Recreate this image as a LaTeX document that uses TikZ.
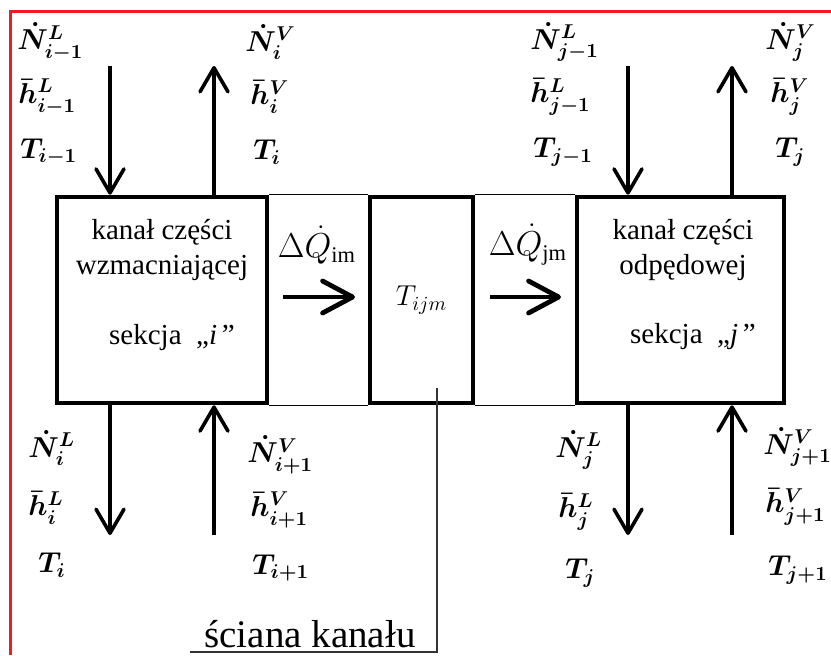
\documentclass[tikz,border=0pt]{standalone}
\usepackage{amsmath}
\usepackage{fontspec}
\setmainfont{Liberation Serif}
\usetikzlibrary{arrows.meta}

\definecolor{frameRed}{RGB}{237,28,36}

\begin{document}
\begin{tikzpicture}[
    x=0.5pt, y=-0.5pt,
    box/.style={draw, line width=2.3pt, inner sep=0pt, minimum height=103pt},
    txt/.style={align=center, font=\fontsize{14.5}{17.5}\selectfont},
    qty/.style={anchor=west, inner sep=0pt, font=\fontsize{14}{16}\selectfont\boldmath},
    flow/.style={line width=1.8pt, -{Straight Barb[round,length=12pt,width=14pt]}},
    heat/.style={line width=2.4pt, -{Straight Barb[round,length=15pt,width=16pt]}},
    thinline/.style={line width=0.5pt},
    wallline/.style={line width=0.7pt, black!80}
]
\useasboundingbox (0,0) rectangle (831,655);

% Red frame (top and left only)
\draw[frameRed, line width=1.5pt] (10,655) -- (10,11) -- (831,11);

% Section boxes and the wall
\node[box, minimum width=105pt] (secI) at (162,300) {};
\node[box, minimum width=51.5pt, font=\fontsize{14.5}{16}\selectfont] (wall) at (421.5,300) {$T_{ijm}$};
\node[box, minimum width=103.5pt] (secJ) at (680.5,300) {};

% Thin lines joining the boxes
\draw[thinline] (secI.north east) -- (wall.north west);
\draw[thinline] (wall.north east) -- (secJ.north west);
\draw[thinline] (secI.south east) -- (wall.south west);
\draw[thinline] (wall.south east) -- (secJ.south west);

% Texts inside the boxes
\node[txt] (nameI) at (162,250) {kanał części\\wzmacniającej};
\node[txt] (idxI) at (172,338) {sekcja \ „\textit{i}\,”};
\node[txt] (nameJ) at (683,250) {kanał części\\odpędowej};
\node[txt] (idxJ) at (693,337) {sekcja \ „\textit{j}\,”};

% Free ends of the streams
\coordinate (inLI) at (110,66);
\coordinate (outVI) at (214,66);
\coordinate (outLI) at (110,535);
\coordinate (inVI) at (214,535);
\coordinate (inLJ) at (628,66);
\coordinate (outVJ) at (732,66);
\coordinate (outLJ) at (628,535);
\coordinate (inVJ) at (732,535);

% Streams of section i
\draw[flow] (inLI) -- (inLI |- secI.north);
\draw[flow] (outVI |- secI.north) -- (outVI);
\draw[flow] (outLI |- secI.south) -- (outLI);
\draw[flow] (inVI) -- (inVI |- secI.south);

% Streams of section j
\draw[flow] (inLJ) -- (inLJ |- secJ.north);
\draw[flow] (outVJ |- secJ.north) -- (outVJ);
\draw[flow] (outLJ |- secJ.south) -- (outLJ);
\draw[flow] (inVJ) -- (inVJ |- secJ.south);

% Heat flows through the wall
\coordinate (qIa) at (283,297);
\coordinate (qIb) at (355,297);
\coordinate (qJa) at (490,297);
\coordinate (qJb) at (561,297);
\draw[heat] (qIa) -- (qIb);
\draw[heat] (qJa) -- (qJb);
\node[font=\fontsize{16}{18}\selectfont] (qI) at (317,245) {$\Delta\dot{Q}_{\mathrm{im}}$};
\node[font=\fontsize{16}{18}\selectfont] (qJ) at (528,245) {$\Delta\dot{Q}_{\mathrm{jm}}$};

% Labels above section i
\node[qty] (nLi1) at (17,42) {$\dot{N}^{L}_{i-1}$};
\node[qty] (hLi1) at (18,97) {$\bar{h}^{L}_{i-1}$};
\node[qty] (tLi1) at (20,152) {$T_{i-1}$};
\node[qty] (nVi) at (245,42) {$\dot{N}^{V}_{i}$};
\node[qty] (hVi) at (250,97) {$\bar{h}^{V}_{i}$};
\node[qty] (tVi) at (253,152) {$T_{i}$};

% Labels above section j
\node[qty] (nLj1) at (530,42) {$\dot{N}^{L}_{j-1}$};
\node[qty] (hLj1) at (530,97) {$\bar{h}^{L}_{j-1}$};
\node[qty] (tLj1) at (533,152) {$T_{j-1}$};
\node[qty] (nVj) at (765,42) {$\dot{N}^{V}_{j}$};
\node[qty] (hVj) at (770,97) {$\bar{h}^{V}_{j}$};
\node[qty] (tVj) at (775,152) {$T_{j}$};

% Labels below section i
\node[qty] (nLi) at (28,448) {$\dot{N}^{L}_{i}$};
\node[qty] (hLi) at (28,508) {$\bar{h}^{L}_{i}$};
\node[qty] (tLi) at (38,565) {$T_{i}$};
\node[qty] (nVi1) at (247,455) {$\dot{N}^{V}_{i+1}$};
\node[qty] (hVi1) at (250,510) {$\bar{h}^{V}_{i+1}$};
\node[qty] (tVi1) at (252,568) {$T_{i+1}$};

% Labels below section j
\node[qty] (nLj) at (555,450) {$\dot{N}^{L}_{j}$};
\node[qty] (hLj) at (558,512) {$\bar{h}^{L}_{j}$};
\node[qty] (tLj) at (565,573) {$T_{j}$};
\node[qty] (nVj1) at (763,447) {$\dot{N}^{V}_{j+1}$};
\node[qty] (hVj1) at (765,507) {$\bar{h}^{V}_{j+1}$};
\node[qty] (tVj1) at (768,570) {$T_{j+1}$};

% Pointer to the channel wall
\coordinate (wallPt) at (437,388);
\coordinate (wallEnd) at (190,652);
\draw[wallline] (wallPt) |- (wallEnd);
\node[anchor=south, inner sep=1pt, font=\fontsize{19.5}{22}\selectfont] (wallLbl) at (310,650) {ściana kanału};

\end{tikzpicture}
\end{document}
